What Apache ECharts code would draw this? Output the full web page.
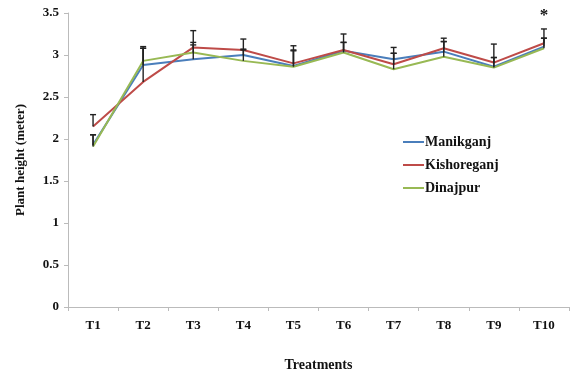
<!DOCTYPE html>
<html>
<head>
<meta charset="utf-8">
<script src="https://cdn.jsdelivr.net/npm/echarts@6/dist/echarts.min.js"></script>
<style>
  html, body { margin: 0; padding: 0; background: #fff; }
  #chart { width: 570px; height: 374px; }
</style>
</head>
<body>
<div id="chart"></div>
<script>
// Plant height per treatment for three districts, with upward error bars
const treatments = ['T1', 'T2', 'T3', 'T4', 'T5', 'T6', 'T7', 'T8', 'T9', 'T10'];
const yTicks = [0, 0.5, 1, 1.5, 2, 2.5, 3, 3.5];

const manikganj   = [1.93, 2.88, 2.95, 3.00, 2.87, 3.05, 2.95, 3.04, 2.86, 3.10];
const kishoreganj = [2.15, 2.68, 3.09, 3.06, 2.90, 3.06, 2.89, 3.08, 2.91, 3.14];
const dinajpur    = [1.91, 2.93, 3.03, 2.93, 2.86, 3.03, 2.83, 2.98, 2.85, 3.08];

// standard error (drawn upward only)
const manikganjErr   = [0.12, 0.20, 0.20, 0.07, 0.19, 0.10, 0.14, 0.12, 0.11, 0.10];
const kishoreganjErr = [0.14, 0.40, 0.20, 0.13, 0.21, 0.19, 0.13, 0.12, 0.22, 0.17];
const dinajpurErr    = [0.14, 0.17, 0.09, 0.13, 0.19, 0.12, 0.19, 0.18, 0.12, 0.12];

const significantAt = 'T10';
const seriesNames = ['Manikganj', 'Kishoreganj', 'Dinajpur'];
const colors = ['#4a7ebb', '#be4b48', '#98b954'];

const FONT = '"Liberation Serif", "Times New Roman", serif';

function errorSeries(values, errs) {
  return {
    type: 'custom',
    silent: true,
    z: 5,
    data: values.map((v, i) => [i, v, v + errs[i]]),
    renderItem: function (params, api) {
      const lo = api.coord([api.value(0), api.value(1)]);
      const hi = api.coord([api.value(0), api.value(2)]);
      const hw = 3;
      const style = { stroke: '#222', lineWidth: 1.4 };
      return {
        type: 'group',
        children: [
          { type: 'line', shape: { x1: lo[0], y1: lo[1], x2: hi[0], y2: hi[1] }, style: style },
          { type: 'line', shape: { x1: hi[0] - hw, y1: hi[1], x2: hi[0] + hw, y2: hi[1] }, style: style }
        ]
      };
    }
  };
}

function lineSeries(name, values, color) {
  return {
    name: name,
    type: 'line',
    data: values,
    symbol: 'none',
    z: 3,
    lineStyle: { color: color, width: 2 },
    itemStyle: { color: color }
  };
}

const chart = echarts.init(document.getElementById('chart'));
chart.setOption({
  animation: false,
  backgroundColor: '#fff',
  textStyle: { fontFamily: FONT },
  grid: { left: 68, top: 13, width: 501, bottom: 67, containLabel: false, outerBoundsMode: 'none' },
  legend: {
    data: seriesNames,
    orient: 'vertical',
    left: 398,
    top: 130,
    itemGap: 9,
    itemWidth: 21,
    itemHeight: 2,
    icon: 'rect',
    textStyle: { fontFamily: FONT, fontWeight: 'bold', fontSize: 14, color: '#111', padding: [0, 0, 0, -4] }
  },
  xAxis: {
    type: 'category',
    data: treatments,
    boundaryGap: true,
    name: 'Treatments',
    nameLocation: 'middle',
    nameGap: 51,
    nameTextStyle: { fontFamily: FONT, fontWeight: 'bold', fontSize: 14, color: '#111' },
    axisLine: { lineStyle: { color: '#bbb', width: 1 } },
    axisTick: { show: true, length: 4, lineStyle: { color: '#bbb' } },
    axisLabel: { fontFamily: FONT, fontWeight: 'bold', fontSize: 13, color: '#111', margin: 12 }
  },
  yAxis: {
    type: 'value',
    min: yTicks[0],
    max: yTicks[yTicks.length - 1],
    interval: 0.5,
    name: 'Plant height (meter)',
    nameLocation: 'middle',
    nameGap: 41,
    nameRotate: 90,
    nameTextStyle: { fontFamily: FONT, fontWeight: 'bold', fontSize: 13, color: '#111' },
    axisLine: { show: true, lineStyle: { color: '#bbb', width: 1 } },
    axisTick: { show: true, length: 4, lineStyle: { color: '#bbb' } },
    splitLine: { show: false },
    axisLabel: { fontFamily: FONT, fontWeight: 'bold', fontSize: 13, color: '#111', margin: 9,
                 formatter: v => String(v) }
  },
  series: [
    lineSeries(seriesNames[0], manikganj, colors[0]),
    lineSeries(seriesNames[1], kishoreganj, colors[1]),
    Object.assign(lineSeries(seriesNames[2], dinajpur, colors[2]), {
      markPoint: {
        symbol: 'circle',
        symbolSize: 0,
        data: [{ coord: [significantAt, 3.47] }],
        label: { show: true, position: 'inside', formatter: '*', fontFamily: FONT,
                 fontWeight: 'bold', fontSize: 17, color: '#111' }
      }
    }),
    errorSeries(manikganj, manikganjErr),
    errorSeries(kishoreganj, kishoreganjErr),
    errorSeries(dinajpur, dinajpurErr)
  ]
});
</script>
</body>
</html>
